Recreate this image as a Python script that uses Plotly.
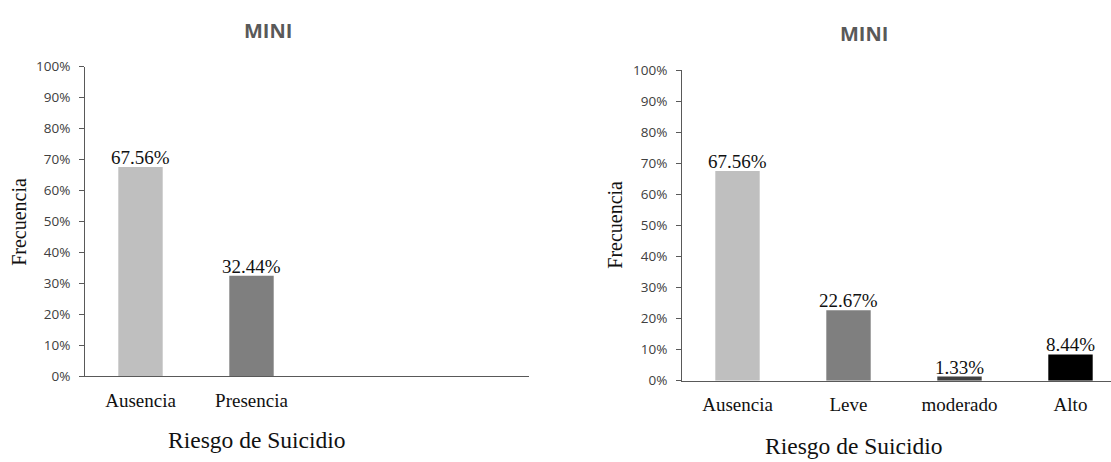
import plotly.graph_objects as go

# Riesgo de suicidio (MINI): two groupings of the same sample
cats_dos = ["Ausencia", "Presencia"]
pct_dos = [67.56, 32.44]
colores_dos = ["#BFBFBF", "#7F7F7F"]

cats_cuatro = ["Ausencia", "Leve", "moderado", "Alto"]
pct_cuatro = [67.56, 22.67, 1.33, 8.44]
colores_cuatro = ["#BFBFBF", "#7F7F7F", "#404040", "#000000"]

y_ticks = [i / 10 for i in range(11)]
titulo = "MINI"
eje_x = "Riesgo de Suicidio"
eje_y = "Frecuencia"

W, H = 1111, 462
SERIF = "Liberation Serif, Times New Roman, serif"
SANS = "Open Sans, Noto Sans, sans-serif"


def px_x(p):
    return p / W


def px_y(p):
    return 1 - p / H


fig = go.Figure()

fig.add_trace(go.Bar(x=cats_dos, y=[v / 100 for v in pct_dos], width=0.4,
                     marker=dict(color=colores_dos, line=dict(width=0)),
                     xaxis="x", yaxis="y", showlegend=False, hoverinfo="skip"))
fig.add_trace(go.Bar(x=cats_cuatro, y=[v / 100 for v in pct_cuatro], width=0.4,
                     marker=dict(color=colores_cuatro, line=dict(width=0)),
                     xaxis="x2", yaxis="y2", showlegend=False, hoverinfo="skip"))

axis_common_y = dict(range=[0, 1], tickvals=y_ticks, tickformat=".0%",
                     showline=True, linecolor="#595959", linewidth=1,
                     ticks="outside", ticklen=5, tickcolor="#595959",
                     showgrid=False, zeroline=False, fixedrange=True,
                     tickfont=dict(family=SANS, size=13.5, color="#404040"),
                     ticklabelstandoff=6)
axis_common_x = dict(type="category", showline=True, linecolor="#595959",
                     linewidth=1, ticks="", showgrid=False, zeroline=False,
                     fixedrange=True,
                     tickfont=dict(family=SERIF, size=19, color="#111111"),
                     ticklabelstandoff=7)

fig.update_layout(
    width=W, height=H,
    margin=dict(l=0, r=0, t=0, b=0),
    paper_bgcolor="white", plot_bgcolor="white",
    bargap=0.6,
    xaxis=dict(domain=[px_x(85), px_x(529)], range=[-0.5, 3.5],
               anchor="y", **axis_common_x),
    yaxis=dict(domain=[px_y(382), px_y(60)], anchor="x", **axis_common_y),
    xaxis2=dict(domain=[px_x(682), 1.0], range=[-0.5, -0.5 + (W - 682) / 111],
                anchor="y2", **axis_common_x),
    yaxis2=dict(domain=[px_y(386.7), px_y(63.7)], anchor="x2", **axis_common_y),
)

# value labels above each bar
for xa, ya, cats, vals in (("x", "y", cats_dos, pct_dos),
                           ("x2", "y2", cats_cuatro, pct_cuatro)):
    for c, v in zip(cats, vals):
        fig.add_annotation(x=c, y=v / 100, xref=xa, yref=ya,
                           text=f"{v:.2f}%", showarrow=False,
                           yanchor="bottom", yshift=-3,
                           font=dict(family=SERIF, size=19, color="#111111"))

# chart titles and axis titles
for cx, cy in ((267.5, 22), (863.5, 25)):
    fig.add_annotation(x=px_x(cx), y=px_y(cy), xref="paper", yref="paper",
                       text=f"<b>{titulo}</b>", showarrow=False,
                       xanchor="center", yanchor="middle",
                       font=dict(family=SANS, size=20, color="#595959"))
for cx, cy in ((257, 448), (854, 455)):
    fig.add_annotation(x=px_x(cx), y=px_y(cy), xref="paper", yref="paper",
                       text=eje_x, showarrow=False,
                       xanchor="center", yanchor="middle",
                       font=dict(family=SERIF, size=23.5, color="#111111"))
for cx, cy in ((19.5, 222), (615.5, 225)):
    fig.add_annotation(x=px_x(cx), y=px_y(cy), xref="paper", yref="paper",
                       text=eje_y, showarrow=False, textangle=-90,
                       xanchor="center", yanchor="middle",
                       font=dict(family=SERIF, size=20, color="#111111"))

fig.write_html("out.html", config={"displayModeBar": False})
